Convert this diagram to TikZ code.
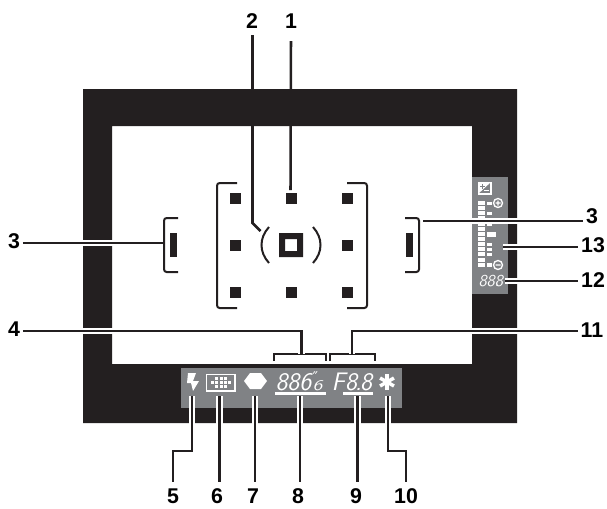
\documentclass[tikz,border=0pt]{standalone}
\usepackage{fontspec}
\setmainfont{Liberation Sans}
\newfontfamily\tickfont{DejaVu Sans}
\definecolor{framecol}{RGB}{35,31,32}
\definecolor{panelcol}{RGB}{128,130,133}
\tikzset{every picture/.style={line width=0.75pt}}
\tikzset{
  callout/.style={inner sep=0.75pt,outer sep=1.5pt,font=\fontsize{16}{16}\selectfont\bfseries},
  leader/.style={draw=framecol,line width=1.9pt,preaction={draw=white,line width=4.6pt}},
  plainlead/.style={draw=framecol,line width=1.9pt},
  bracketline/.style={draw=framecol,line width=1.5pt,rounded corners=2pt},
  spot/.style={fill=framecol},
  lcd/.style={inner sep=0pt,text=white,font=\fontsize{19}{19}\selectfont\sffamily\slshape},
  lcdsmall/.style={inner sep=0pt,text=white,font=\fontsize{12.5}{12.5}\selectfont\sffamily\slshape},
  glyph/.style={fill=white},
  glyphline/.style={draw=white,line width=1pt}
}

\begin{document}
\begin{tikzpicture}[x=0.75pt,y=0.75pt,yscale=-1,xscale=1]
	\useasboundingbox (0,0) rectangle (607,508);

	%Shape: finder frame
	\fill [framecol,even odd rule] (83,89) rectangle (517,423) (112,126) rectangle (472,364);
	\fill [panelcol] (181,368) rectangle (402,408);
	\fill [panelcol] (472,177) rectangle (508,294);

	%focus points
	\foreach \y in {198,245,292}
		\foreach \x in {235,291,347}
			\fill [spot] (\x-5.5,\y-5.5) rectangle (\x+5.5,\y+5.5);
	\fill [white] (279,233) rectangle (303,257);
	\fill [framecol,even odd rule] (279,233) rectangle (303,257) (285,239) rectangle (297,251);
	\draw [framecol,line width=1.5pt] (269,227) .. controls (259,238) and (259,252) .. (269,263);
	\draw [framecol,line width=1.5pt] (313,227) .. controls (323,238) and (323,252) .. (313,263);

	%brackets
	\draw [bracketline] (237,183) -- (217,183) -- (217,308) -- (237,308);
	\draw [bracketline] (347,183) -- (367,183) -- (367,308) -- (347,308);
	\draw [bracketline] (178,218) -- (164,218) -- (164,272) -- (178,272);
	\draw [bracketline] (405,218) -- (419,218) -- (419,272) -- (405,272);
	\fill [framecol] (170,233) rectangle (177,257);
	\fill [framecol] (406,233) rectangle (413,257);
	\draw [framecol,line width=1.5pt] (274,361) -- (274,354) -- (326,354) -- (326,361);
	\draw [framecol,line width=1.5pt] (330,361) -- (330,354) -- (375,354) -- (375,361);

	%Shape: bottom display
	\fill [glyph] (188,373) -- (196,373) -- (193,381) -- (199,381) -- (193,391) -- (191,383) -- (187,383) -- cycle;
	\draw [glyphline] (206.5,374.5) rectangle (235,391);
	\foreach \x in {212.5,216.8,221.1,225.4,229.7}
		\fill [glyph] (\x-1.4,381) rectangle (\x+1.4,384);
	\foreach \x in {216.8,221.1,225.4} {
		\fill [glyph] (\x-1.4,376.6) rectangle (\x+1.4,379.6);
		\fill [glyph] (\x-1.4,385.4) rectangle (\x+1.4,388.4);
	}
	\fill [glyph] (244,381) -- (250,373) -- (261,373) -- (267,381) -- (261,389) -- (250,389) -- cycle;
	\node [lcd,anchor=west] (txtshutter) at (275,381.5) {886\kern1pt\rlap{\raisebox{0.34em}{\tickfont\upshape\fontsize{11}{11}\selectfont ″}}\fontsize{11}{11}\selectfont\scalebox{1.35}[1]{6}};
	\node [lcd,anchor=west] (txtaperture) at (331,381.5) {F8\kern-0.07em.\kern-0.07em8};
	\fill [glyph] (275,392) rectangle (326,395);
	\fill [glyph] (343,392) rectangle (373,395);
	\foreach \a in {30,90,150}
		\draw [white,line width=2.6pt] (387,382)+(\a:8) -- +(\a+180:8);

	%Shape: side display
	\fill [glyph] (478,182) -- (491,182) -- (478,194) -- cycle;
	\draw [panelcol,line width=0.9pt] (480,186.5) -- (485,186.5) (482.5,184) -- (482.5,189);
	\draw [glyphline] (478.5,182.5) rectangle (491,194);
	\draw [glyphline] (484,190.5) -- (489,190.5);
	\foreach \y in {203.3,208.3,213.3,218.3,224,229,234,239.3,244.3,249.3,254.3,260,265}
		\fill [glyph] (478,\y-2) rectangle (485,\y+2);
	\foreach \y in {203.3,213.3,224,244.3,249.3,254.3,265}
		\fill [glyph] (487,\y-1.7) rectangle (492,\y+1.7);
	\fill [glyph] (487,231.5) rectangle (496,236.5);
	\draw [glyphline] (498,203) circle (4.5) (495.5,203) -- (500.5,203) (498,200.5) -- (498,205.5);
	\draw [glyphline] (498,265) circle (4.5) (495.5,265) -- (500.5,265);
	\node [lcdsmall,anchor=west] (txtcomp) at (478,281) {88\rlap{.}8};

	%labels
	\node [callout] (lab1) at (291,21) {1};
	\node [callout] (lab2) at (252,21) {2};
	\node [callout] (lab3a) at (14,241) {3};
	\node [callout] (lab3b) at (592,216) {3};
	\node [callout] (lab4) at (14,329) {4};
	\node [callout] (lab5) at (173,496) {5};
	\node [callout] (lab6) at (217,496) {6};
	\node [callout] (lab7) at (253,496) {7};
	\node [callout] (lab8) at (298,496) {8};
	\node [callout] (lab9) at (356,496) {9};
	\node [callout] (lab10) at (406,496) {10};
	\node [callout] (lab11) at (592,330) {11};
	\node [callout] (lab12) at (593,280) {12};
	\node [callout] (lab13) at (593,245) {13};

	%free ends of the leaders
	\coordinate (end1) at (290.5,190);
	\coordinate (bend2) at (252.5,223);
	\coordinate (end2) at (260.5,231);
	\coordinate (end3a) at (163,243);
	\coordinate (end3b) at (423,221);
	\coordinate (bend4) at (301.5,331);
	\coordinate (end4) at (301.5,354);
	\coordinate (bend11) at (352,331);
	\coordinate (end11) at (352,354);
	\coordinate (end12) at (505,281);
	\coordinate (end13) at (503,247);
	\coordinate (end5) at (192,396);
	\coordinate (end6) at (219.5,396);
	\coordinate (end7) at (255,396);
	\coordinate (end8) at (300,396);
	\coordinate (end9) at (357.5,396);
	\coordinate (end10) at (388,396);

	%leaders
	\draw [plainlead] (lab1.north |- 0,41) -- (end1);
	\draw [plainlead] (end2) -- (bend2) -- (bend2 |- 0,35);
	\draw [leader] (lab3a.east |- end3a) -- (end3a);
	\draw [leader] (end3b) -- (lab3b.west |- end3b);
	\draw [leader] (lab4.east |- bend4) -- (bend4) -- (end4);
	\draw [leader] (end11) -- (bend11) -- (lab11.west |- bend11);
	\draw [leader] (end12) -- (lab12.west |- end12);
	\draw [leader] (end13) -- (lab13.west |- end13);
	\draw [leader] (end5) -- (192,451) -- (lab5 |- 0,451) -- (lab5 |- 0,482);
	\draw [leader] (end6) -- (end6 |- 0,482);
	\draw [leader] (end7) -- (end7 |- 0,482);
	\draw [leader] (end8) -- (end8 |- 0,482);
	\draw [leader] (end9) -- (end9 |- 0,482);
	\draw [leader] (end10) -- (388,451) -- (lab10 |- 0,451) -- (lab10 |- 0,482);
\end{tikzpicture}
\end{document}
